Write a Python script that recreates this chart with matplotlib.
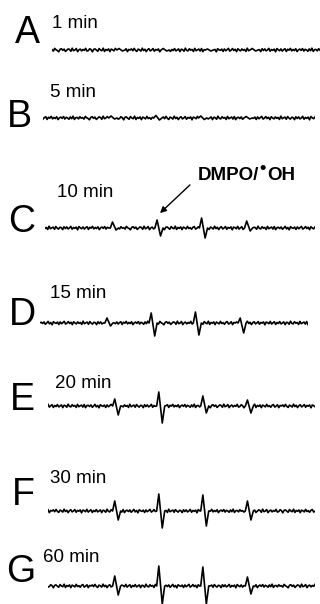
import numpy as np
import matplotlib
matplotlib.use('Agg')
import matplotlib.pyplot as plt

plt.rcParams['font.family'] = ['Liberation Sans', 'DejaVu Sans']

# EPR spectra of DMPO/OH adduct vs. time
labels = ['A', 'B', 'C', 'D', 'E', 'F', 'G']
times = ['1 min', '5 min', '10 min', '15 min', '20 min', '30 min', '60 min']

# field positions of the four lines (arbitrary units, sweep 0-100)
peak_field = [25.0, 41.5, 58.0, 74.7]

# (up, down) excursion of each line, per spectrum
peak_up = [
    [1.5, 1.5, 1.0, 1.5],
    [2.0, 2.5, 2.0, 1.5],
    [6.0, 8.0, 10.0, 7.0],
    [5.0, 10.0, 11.0, 5.0],
    [7.0, 14.0, 10.0, 6.0],
    [10.0, 17.0, 16.0, 10.0],
    [10.0, 20.0, 19.0, 9.0],
]
peak_down = [
    [1.0, 1.0, 1.0, 1.0],
    [1.0, 2.0, 1.5, 1.0],
    [2.0, 8.0, 10.0, 3.0],
    [3.0, 13.0, 12.0, 10.0],
    [9.0, 17.0, 7.0, 7.0],
    [9.0, 17.0, 15.0, 9.0],
    [9.0, 18.0, 18.0, 8.0],
]

# baseline noise
noise = [0.2, -0.6, 0.9, 0.1, -0.3, -1.0, 0.4, 0.7, -0.2, 0.5, -0.8, -0.1, 0.6, 0.3, -0.7, 1.0, -0.4, 0.0, 0.8, -0.9,
         0.1, 0.5, -0.5, 0.3, -0.2, 0.9, -0.6, -0.3, 0.7, 0.2, -1.0, 0.4, 0.6, -0.1, -0.7, 0.8, 0.0, -0.4, 1.0, -0.8,
         0.3, -0.2, 0.6, -0.9, 0.5, 0.1, -0.5, 0.9, -0.3, 0.2, -0.7, 0.4, 0.8, -0.6, -0.1, 0.7, -0.9, 0.3, 0.0, 0.6,
         -0.4, 0.9, -0.2, -0.8, 0.5, 0.1, -0.6, 1.0, -0.3, 0.4, -0.9, 0.2, 0.7, -0.5, 0.0, 0.8, -0.7, 0.3, -0.1, 0.6,
         -1.0, 0.5, 0.2, -0.4, 0.9, -0.6, 0.1, 0.7, -0.8, 0.3, -0.3, 0.8, -0.5, 0.0, 0.6, -0.9, 0.4, 0.2, -0.7, 1.0,
         -0.2, -0.5, 0.7, -0.1, 0.3, -0.8, 0.9, -0.4, 0.1, 0.5, -0.6, 0.8, -0.9, 0.2, 0.4, -0.3, 0.6, -0.7, 0.0, 0.9,
         -0.5, 0.3, -1.0, 0.7, 0.1, -0.2, 0.5, -0.8, 0.6, -0.4, 0.2, 0.9, -0.6, -0.1, 0.8, -0.3, 0.4, -0.9, 0.7, 0.0,
         -0.5, 0.6, -0.2, 0.3, -0.8, 1.0, -0.4, 0.1, 0.5, -0.7, 0.8, -0.1, -0.6, 0.4, 0.2, -0.9, 0.7, -0.3, 0.6, -0.5,
         0.0, 0.9, -0.7, 0.3, -0.2, 0.5, -1.0, 0.8, 0.1, -0.4, 0.6, -0.6, 0.2, 0.7, -0.8, 0.4, -0.1, 0.9, -0.5, 0.3,
         -0.3, 0.7, -0.9, 0.1, 0.5, -0.2, 0.8, -0.6, 0.4, 0.0, -0.7, 0.6, -0.4, 1.0, -0.8, 0.2, 0.3, -0.5, 0.7, -0.1]
noise_level = 1.8

# layout in pixels: trace left, right, baseline y
W, H = 320, 604
trace_box = [(52, 320, 50), (43, 315, 118), (45, 315, 228), (40, 308, 323),
             (48, 315, 406), (48, 315, 511), (48, 315, 586)]
letter_pos = [(27, 43), (19, 127), (22, 232), (22, 325), (22, 410), (23, 505), (21, 582)]
time_pos = [(52, 28), (50, 97), (57, 197), (50, 298), (55, 388), (50, 483), (43, 562)]

fig = plt.figure(figsize=(W / 100, H / 100), dpi=100)
fig.patch.set_facecolor('white')

noise = np.array(noise)
field = np.linspace(0, 100, len(noise))

for i in range(len(labels)):
    x0, x1, yb = trace_box[i]
    ax = fig.add_axes([x0 / W, 1 - (yb + 25) / H, (x1 - x0) / W, 50 / H])
    ax.set_xlim(0, 100)
    ax.set_ylim(-25, 25)
    ax.axis('off')

    y = np.roll(noise, i * 29) * noise_level
    keep = np.ones(len(field), dtype=bool)
    px, py = [], []
    for p, up, dn in zip(peak_field, peak_up[i], peak_down[i]):
        keep &= ~((field > p - 1.0) & (field < p + 2.6))
        px += [p - 0.8, p, p + 1.3, p + 2.2]
        py += [0.0, up, -dn, 0.0]
    xs = np.concatenate([field[keep], px])
    ys = np.concatenate([y[keep], py])
    order = np.argsort(xs)
    ax.plot(xs[order], ys[order], color='black', lw=1.2)

    lx, ly = letter_pos[i]
    fig.text(lx / W, 1 - ly / H, labels[i], fontsize=27, ha='center', va='baseline')
    tx, ty = time_pos[i]
    fig.text(tx / W, 1 - ty / H, times[i], fontsize=13.5, ha='left', va='baseline')

# DMPO/OH annotation
fig.text(198 / W, 1 - 180 / H, 'DMPO/', fontsize=13.5, fontweight='bold',
         ha='left', va='baseline')
fig.text(267 / W, 1 - 180 / H, 'OH', fontsize=13.5, fontweight='bold',
         ha='left', va='baseline')
fig.text(263 / W, 1 - 168 / H, '\u2022', fontsize=13, fontweight='bold',
         ha='center', va='center')
fig.add_artist(matplotlib.patches.FancyArrowPatch(
    (192 / W, 1 - 183 / H), (158 / W, 1 - 215 / H), transform=fig.transFigure,
    arrowstyle='-|>', mutation_scale=9, color='black', lw=1.0))

fig.savefig('out.png', dpi=100)
